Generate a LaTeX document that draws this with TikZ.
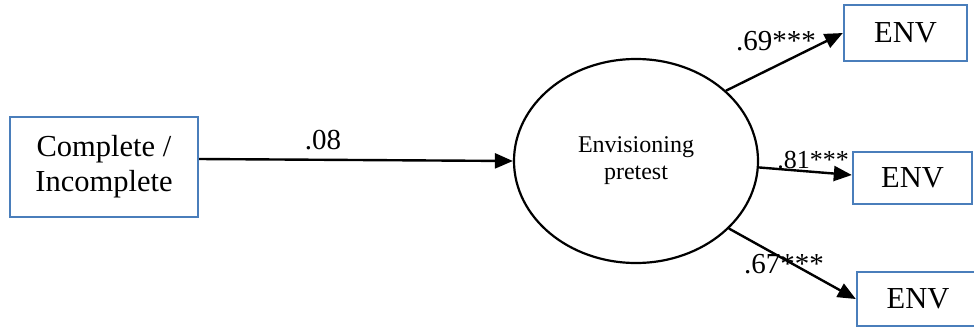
\documentclass[tikz,border=0pt]{standalone}
\usepackage{fontspec}
\setmainfont{Liberation Serif}
\usetikzlibrary{arrows.meta,shapes.geometric}
\definecolor{boxblue}{RGB}{74,126,187}
\tikzset{
  varbox/.style={draw=boxblue, fill=white, line width=2.4pt, inner sep=0pt,
    align=center, font=\fontsize{30.5}{35}\selectfont},
  latent/.style={ellipse, draw, line width=2.2pt, inner sep=0pt, align=center,
    minimum width=244pt, minimum height=204pt, font=\fontsize{24}{27}\selectfont},
  coef/.style={inner sep=0pt, font=\fontsize{29}{32}\selectfont},
  pathline/.style={line width=2.4pt, -{Triangle[length=18pt,width=15pt]}}
}
\begin{document}
\begin{tikzpicture}[x=1pt, y=-1pt]
\useasboundingbox (0,0) rectangle (974,327);
% labels first, boxes cover them
\node[coef] (l08) at (323,140) {.08};
\node[coef] (l69) at (776,41) {.69***};
\node[coef, font=\fontsize{26}{30}\selectfont] (l81) at (813,160) {.81***};
\node[coef] (l67) at (784,264) {.67***};

\node[latent] (envp) at (636,161) {Envisioning\\pretest};
\node[varbox, minimum width=188pt, minimum height=100pt] (cc) at (104,167) {Complete /\\Incomplete};
\node[varbox, minimum width=123pt, minimum height=56pt] (env1) at (905.5,33) {ENV};
\node[varbox, minimum width=119pt, minimum height=52pt] (env2) at (912.5,178) {ENV};
\node[varbox, minimum width=122pt, minimum height=54pt] (env3) at (918,299) {ENV};

\draw[pathline] ([yshift=8pt]cc.east) -- (envp.west);
\draw[pathline] (envp.38) -- (env1.west);
\draw[pathline] (envp.-3) -- ([yshift=3pt]env2.west);
\draw[pathline] (envp.-36) -- (env3.west);
\end{tikzpicture}
\end{document}
